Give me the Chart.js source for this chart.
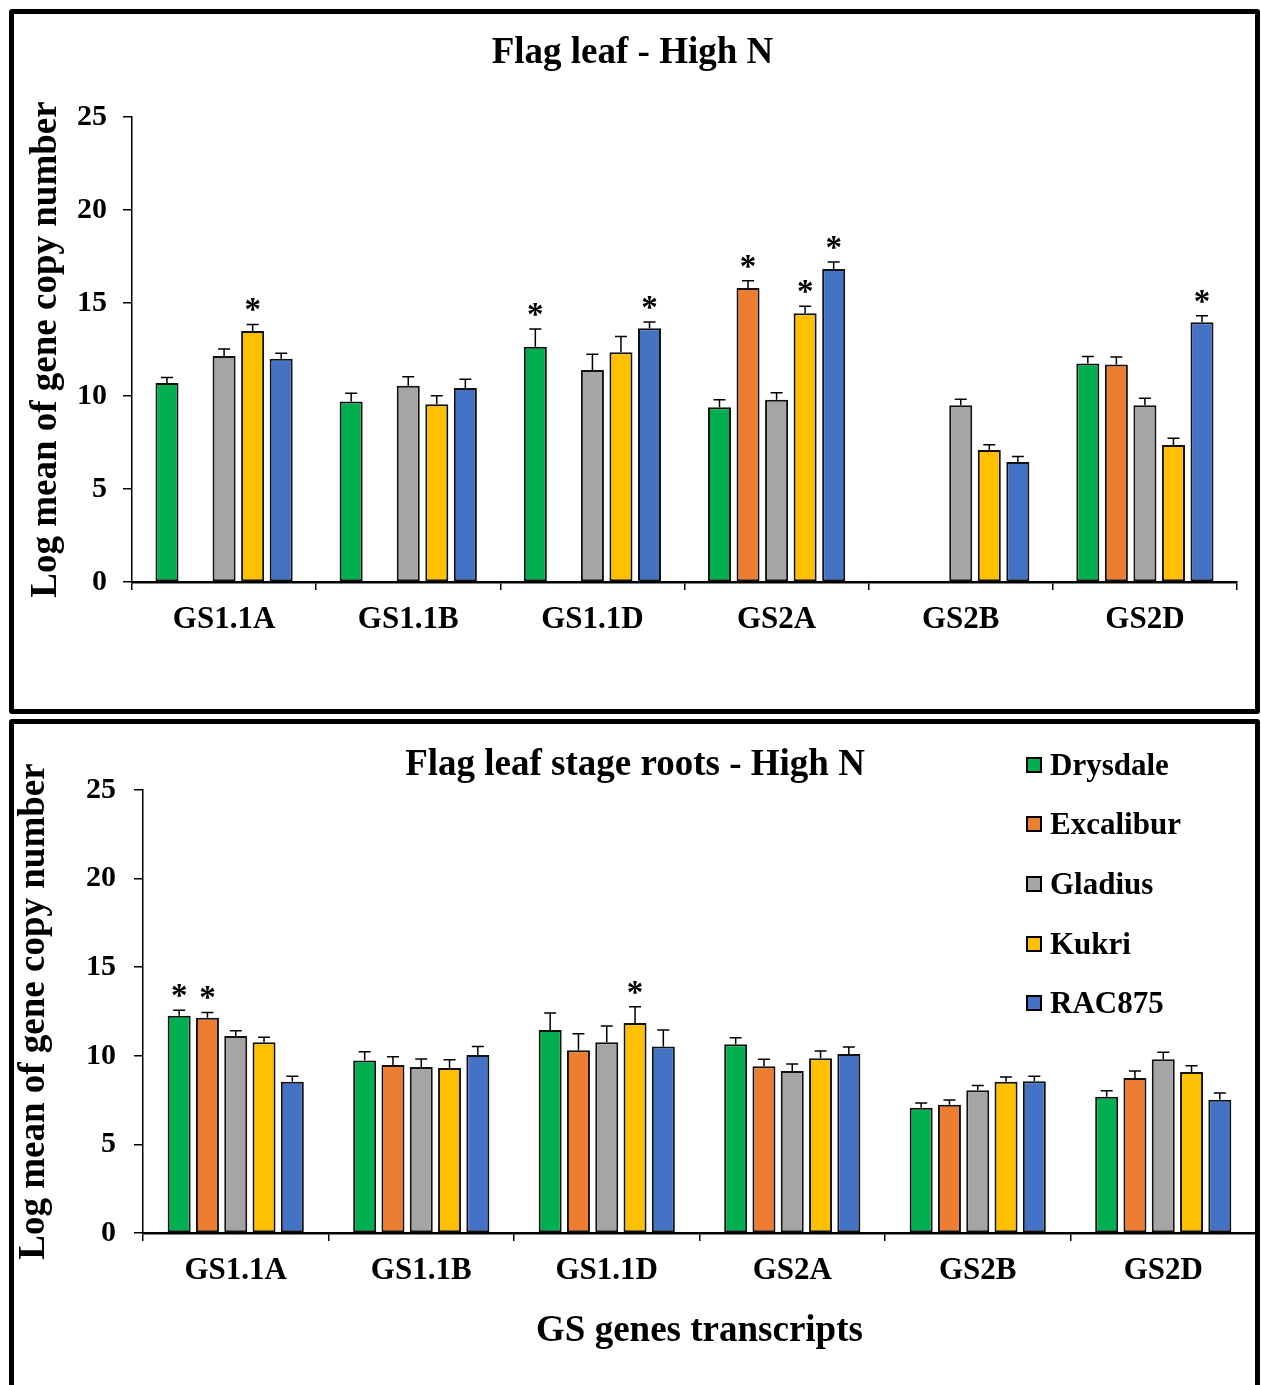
<!DOCTYPE html>
<html>
<head>
<meta charset="utf-8">
<title>GS genes transcripts - High N</title>
<script src="https://cdn.jsdelivr.net/npm/chart.js@4.4.1/dist/chart.umd.min.js"></script>
<style>
    body {
        margin: 0;
        background: #fff;
        width: 1261px;
        height: 1385px;
        overflow: hidden;
        position: relative;
        font-family: "Liberation Serif", "Times New Roman", serif;
    }
    canvas { position: absolute; left: 0; }
    #leafChart { top: 0; }
    #rootChart { top: 714px; }
    .panel {
        position: absolute;
        left: 9px;
        width: 1251px;
        border: 5px solid #000;
        box-sizing: border-box;
        border-radius: 3px;
        pointer-events: none;
    }
    #leafPanel { top: 9px; height: 705px; }
    #rootPanel { top: 719px; height: 690px; }
    #legend { position: absolute; left: 1026px; top: 735px; }
    .legend-item {
        height: 59.6px;
        display: flex;
        align-items: center;
        font-weight: bold;
        font-size: 31px;
        color: #000;
    }
    .legend-box {
        width: 12px;
        height: 12px;
        border: 2px solid #000;
        margin-right: 8px;
    }
</style>
</head>
<body>
<canvas id="leafChart" width="1261" height="714"></canvas>
<canvas id="rootChart" width="1261" height="671"></canvas>
<div id="leafPanel" class="panel"></div>
<div id="rootPanel" class="panel"></div>
<div id="legend"></div>

<script>
// Data
const genes = ['GS1.1A', 'GS1.1B', 'GS1.1D', 'GS2A', 'GS2B', 'GS2D'];
const cultivars = ['Drysdale', 'Excalibur', 'Gladius', 'Kukri', 'RAC875'];
const colours = ['#00B050', '#ED7D31', '#A5A5A5', '#FFC000', '#4472C4'];
const yTicks = [0, 5, 10, 15, 20, 25];

// Flag leaf - High N
const leafDrysdale = [10.7, 9.7, 12.65, 9.4, null, 11.75];
const leafExcalibur = [null, null, null, 15.8, null, 11.7];
const leafGladius = [12.15, 10.55, 11.4, 9.8, 9.5, 9.5];
const leafKukri = [13.5, 9.55, 12.35, 14.45, 7.1, 7.37];
const leafRac875 = [12.0, 10.43, 13.64, 16.83, 6.45, 13.96];

const leafDrysdaleErr = [0.3, 0.45, 0.95, 0.4, null, 0.37];
const leafExcaliburErr = [null, null, null, 0.4, null, 0.4];
const leafGladiusErr = [0.38, 0.48, 0.85, 0.38, 0.33, 0.38];
const leafKukriErr = [0.35, 0.47, 0.85, 0.38, 0.28, 0.36];
const leafRac875Err = [0.3, 0.47, 0.34, 0.37, 0.3, 0.36];

const leafDrysdaleStar = [0, 0, 1, 0, 0, 0];
const leafExcaliburStar = [0, 0, 0, 1, 0, 0];
const leafGladiusStar = [0, 0, 0, 0, 0, 0];
const leafKukriStar = [1, 0, 0, 1, 0, 0];
const leafRac875Star = [0, 0, 1, 1, 0, 1];

// Flag leaf stage roots - High N
const rootDrysdale = [12.26, 9.74, 11.46, 10.65, 7.07, 7.69];
const rootExcalibur = [12.15, 9.48, 10.31, 9.41, 7.24, 8.75];
const rootGladius = [11.12, 9.37, 10.76, 9.14, 8.05, 9.8];
const rootKukri = [10.76, 9.31, 11.85, 9.86, 8.54, 9.09];
const rootRac875 = [8.54, 10.05, 10.52, 10.1, 8.56, 7.52];

const rootDrysdaleErr = [0.31, 0.49, 0.96, 0.37, 0.27, 0.34];
const rootExcaliburErr = [0.3, 0.47, 0.94, 0.39, 0.26, 0.39];
const rootGladiusErr = [0.3, 0.45, 0.92, 0.4, 0.28, 0.4];
const rootKukriErr = [0.28, 0.47, 0.92, 0.41, 0.26, 0.35];
const rootRac875Err = [0.3, 0.48, 0.94, 0.4, 0.28, 0.38];

const rootDrysdaleStar = [1, 0, 0, 0, 0, 0];
const rootExcaliburStar = [1, 0, 0, 0, 0, 0];
const rootGladiusStar = [0, 0, 0, 0, 0, 0];
const rootKukriStar = [0, 0, 1, 0, 0, 0];
const rootRac875Star = [0, 0, 0, 0, 0, 0];

const fontFamily = '"Liberation Serif", "Times New Roman", serif';
Chart.defaults.font.family = fontFamily;
Chart.defaults.color = '#000';

// error bars (upper only) and significance stars
const errorBars = {
    id: 'errorBars',
    afterDatasetsDraw(chart) {
        const ctx = chart.ctx;
        const yScale = chart.scales.y;
        ctx.save();
        ctx.strokeStyle = '#000';
        ctx.fillStyle = '#000';
        ctx.lineWidth = 1.5;
        ctx.font = 'bold 33px ' + fontFamily;
        ctx.textAlign = 'center';
        ctx.textBaseline = 'alphabetic';
        chart.data.datasets.forEach((ds, i) => {
            chart.getDatasetMeta(i).data.forEach((bar, j) => {
                const v = ds.data[j];
                if (v === null || v === undefined) return;
                const top = yScale.getPixelForValue(v + ds.errors[j]);
                ctx.beginPath();
                ctx.moveTo(bar.x, bar.y);
                ctx.lineTo(bar.x, top);
                ctx.moveTo(bar.x - 6, top);
                ctx.lineTo(bar.x + 6, top);
                ctx.stroke();
                if (ds.stars[j]) {
                    ctx.fillText('*', bar.x, top - 4);
                }
            });
        });
        ctx.restore();
    }
};

function makeDatasets(values, errors, stars, catPct, barPct) {
    return values.map((vals, i) => ({
        label: cultivars[i],
        data: vals,
        errors: errors[i],
        stars: stars[i],
        backgroundColor: colours[i],
        borderColor: '#111',
        borderWidth: 2,
        borderSkipped: false,
        categoryPercentage: catPct,
        barPercentage: barPct
    }));
}

function makeChart(canvasId, cfg) {
    return new Chart(document.getElementById(canvasId), {
        type: 'bar',
        data: {
            labels: genes,
            datasets: cfg.datasets
        },
        options: {
            responsive: false,
            animation: false,
            layout: { padding: cfg.padding },
            plugins: {
                legend: { display: false },
                tooltip: { enabled: false },
                title: {
                    display: true,
                    text: cfg.title,
                    color: '#000',
                    font: { size: 37, weight: 'bold', lineHeight: 1.2 },
                    padding: cfg.titlePadding
                }
            },
            scales: {
                x: {
                    ticks: { padding: 11, color: '#000', font: { size: 31, weight: 'bold' } },
                    grid: { offset: true, drawOnChartArea: false, tickLength: 8, color: '#000', lineWidth: 1.5 },
                    border: { color: '#000', width: 2.5 },
                    title: cfg.xTitle,
                    afterFit(scale) { scale.height = cfg.xHeight; }
                },
                y: {
                    min: yTicks[0],
                    max: yTicks[yTicks.length - 1],
                    afterBuildTicks(scale) { scale.ticks = yTicks.map(v => ({ value: v })); },
                    ticks: { padding: cfg.yTickPad, color: '#000', font: { size: 30, weight: 'bold' } },
                    grid: { drawOnChartArea: false, tickLength: 9, color: '#000', lineWidth: 1.5 },
                    border: { color: '#000', width: 1.5 },
                    title: {
                        display: true,
                        text: 'Log mean of gene copy number',
                        color: '#000',
                        font: { size: 37, weight: 'bold', lineHeight: 1 },
                        padding: { top: cfg.yTitlePad, bottom: 0 }
                    },
                    afterFit(scale) { scale.width = cfg.yWidth; }
                }
            }
        },
        plugins: [errorBars]
    });
}

makeChart('leafChart', {
    title: 'Flag leaf - High N',
    datasets: makeDatasets(
        [leafDrysdale, leafExcalibur, leafGladius, leafKukri, leafRac875],
        [leafDrysdaleErr, leafExcaliburErr, leafGladiusErr, leafKukriErr, leafRac875Err],
        [leafDrysdaleStar, leafExcaliburStar, leafGladiusStar, leafKukriStar, leafRac875Star],
        0.775, 0.807),
    padding: { left: 28, right: 24, top: 10, bottom: 0 },
    titlePadding: { top: 21, bottom: 41.6 },
    xTitle: { display: false },
    xHeight: 132,
    yWidth: 104,
    yTickPad: 16,
    yTitlePad: 0
});

makeChart('rootChart', {
    title: 'Flag leaf stage roots - High N',
    datasets: makeDatasets(
        [rootDrysdale, rootExcalibur, rootGladius, rootKukri, rootRac875],
        [rootDrysdaleErr, rootExcaliburErr, rootGladiusErr, rootKukriErr, rootRac875Err],
        [rootDrysdaleStar, rootExcaliburStar, rootGladiusStar, rootKukriStar, rootRac875Star],
        0.7625, 0.813),
    padding: { left: 14, right: 5, top: 10, bottom: 0 },
    titlePadding: { top: 19, bottom: 2.6 },
    xTitle: {
        display: true,
        text: 'GS genes transcripts',
        color: '#000',
        font: { size: 37, weight: 'bold', lineHeight: 1 },
        padding: { top: 0, bottom: 35.5 }
    },
    xHeight: 152,
    yWidth: 129,
    yTickPad: 18,
    yTitlePad: 1.5
});

// legend for the roots panel
const legend = document.getElementById('legend');
cultivars.forEach((name, i) => {
    const item = document.createElement('div');
    item.className = 'legend-item';
    const box = document.createElement('span');
    box.className = 'legend-box';
    box.style.background = colours[i];
    const text = document.createElement('span');
    text.textContent = name;
    item.appendChild(box);
    item.appendChild(text);
    legend.appendChild(item);
});
</script>
</body>
</html>
